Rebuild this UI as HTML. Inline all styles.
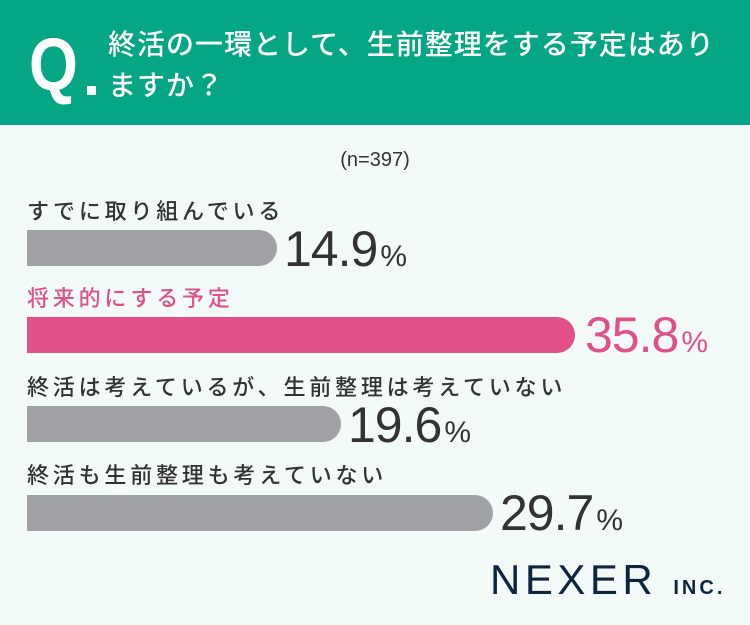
<!DOCTYPE html>
<html><head><meta charset="utf-8"><style>
body{margin:0;width:750px;height:625px;background:#f2fbf8;position:relative;overflow:hidden;font-family:"Liberation Sans","Noto Sans CJK JP",sans-serif;}
.hd{position:absolute;left:0;top:0;width:750px;height:125px;background:#04a683;}
.q{position:absolute;left:29px;top:28px;color:#fff;font-size:74px;font-weight:bold;line-height:74px;transform:scaleX(0.85);transform-origin:left;}
.qd{position:absolute;left:87px;top:86px;width:9px;height:9px;background:#fff;}
.t{position:absolute;left:108px;top:24px;color:#fff;font-size:28px;line-height:41px;letter-spacing:1px;font-weight:500;}
.n{position:absolute;left:0;width:750px;top:149px;text-align:center;font-size:20px;color:#333;}
.l{position:absolute;left:27px;font-size:22px;letter-spacing:3.8px;color:#333;line-height:26px;font-weight:500;}
.b{position:absolute;left:27px;height:36px;background:#a1a2a5;border-radius:0 18px 18px 0;}
.v{position:absolute;font-size:50px;color:#333;line-height:48px;letter-spacing:-1px;}
.v span{font-size:30px;letter-spacing:0;margin-left:3px;}
.pk{color:#e0518a;}
.nx{position:absolute;left:490px;top:558px;font-size:42px;color:#0f2440;letter-spacing:4.5px;line-height:44px;}
.nx span{font-size:20px;font-weight:bold;letter-spacing:3px;}
</style></head><body>
<div class="hd"></div>
<div class="q">Q</div><div class="qd"></div>
<div class="t">終活の一環として、生前整理をする予定はあり<br>ますか？</div>
<div class="n">(n=397)</div>
<div class="l" style="top:199px">すでに取り組んでいる</div>
<div class="b" style="top:230px;width:250px"></div>
<div class="v" style="left:284px;top:225px">14.9<span>%</span></div>
<div class="l pk" style="top:286px">将来的にする予定</div>
<div class="b" style="top:317px;width:548px;background:#e0518a"></div>
<div class="v pk" style="left:585px;top:311px">35.8<span>%</span></div>
<div class="l" style="top:375px">終活は考えているが、生前整理は考えていない</div>
<div class="b" style="top:406px;width:314px"></div>
<div class="v" style="left:348px;top:401px">19.6<span>%</span></div>
<div class="l" style="top:463px">終活も生前整理も考えていない</div>
<div class="b" style="top:495px;width:466px"></div>
<div class="v" style="left:500px;top:489px">29.7<span>%</span></div>
<div class="nx">NEXER <span>INC.</span></div>
</body></html>
